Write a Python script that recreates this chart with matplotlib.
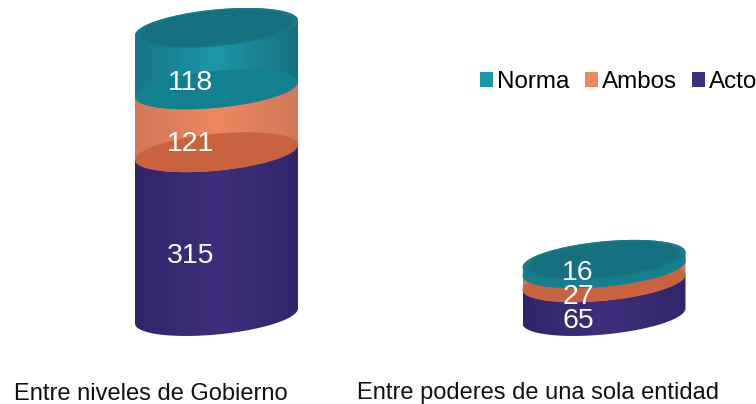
import matplotlib
matplotlib.use("Agg")
import matplotlib.pyplot as plt
import numpy as np
from matplotlib.colors import LinearSegmentedColormap
from matplotlib.patches import Patch, Polygon

categories = ["Entre niveles de Gobierno", "Entre poderes de una sola entidad"]
series = ["Acto", "Ambos", "Norma"]
acto = [315, 65]
ambos = [121, 27]
norma = [118, 16]

plt.rcParams["font.family"] = ["Liberation Sans", "DejaVu Sans"]

# side: edge, middle, edge, then the darker ellipse at the base of the segment
colors = {
    "Norma": ("#177586", "#1c97aa", "#17707f", "#13808f"),
    "Ambos": ("#d27858", "#ed875f", "#d27858", "#c9633f"),
    "Acto": ("#30256a", "#3f2e7c", "#30256a", "#35266f"),
}
top_color = "#177a89"
top_inner = "#16707f"

W, H = 756, 404
PX_X = 387.5   # px per category step
PX_Y = 0.52    # px per unit
half_w = 81.5 / PX_X
minor = 18.5 / PX_Y
shear = 7.5 / PX_Y

fig = plt.figure(figsize=(W / 100, H / 100), dpi=100)
ax = fig.add_axes([0, 0, 1, 1])
xlim = (-216.5 / PX_X, (W - 216.5) / PX_X)
ylim = (-(H - 316) / PX_Y, 316 / PX_Y)


def ellipse(x, y, scale=1.0, n=120):
    t = np.linspace(0, 2 * np.pi, n)
    return np.column_stack([x + scale * half_w * np.cos(t),
                            y + scale * minor * np.sin(t) + scale * shear * np.cos(t)])


def body(x, y0, y1, n=80):
    # front of the lower ellipse, then the back of the upper ellipse
    t = np.linspace(np.pi, 2 * np.pi, n)
    low = np.column_stack([x + half_w * np.cos(t), y0 + minor * np.sin(t) + shear * np.cos(t)])
    t2 = np.linspace(0, np.pi, n)
    up = np.column_stack([x + half_w * np.cos(t2), y1 + minor * np.sin(t2) + shear * np.cos(t2)])
    return np.vstack([low, up])


def segment(x, y0, y1, name, z):
    c = colors[name]
    cmap = LinearSegmentedColormap.from_list(name, [c[0], c[1], c[2]])
    grad = np.linspace(0, 1, 200).reshape(1, -1)
    im = ax.imshow(grad, cmap=cmap, aspect="auto", zorder=z,
                   extent=(x - half_w, x + half_w, y0 - 2 * minor, y1 + 2 * minor))
    clip = Polygon(body(x, y0, y1), closed=True, transform=ax.transData, fc="none", ec="none")
    ax.add_patch(clip)
    im.set_clip_path(clip)
    if name != "Acto":
        ax.add_patch(Polygon(ellipse(x, y0), closed=True, fc=c[3], ec="none", zorder=z + 0.1))


label_drop = {"16": 9, "27": 22, "65": 22, "315": 22, "121": 23, "118": 24}
for i, cat in enumerate(categories):
    base = 0
    z = 1
    for name, vals in zip(series, [acto, ambos, norma]):
        v = vals[i]
        segment(i, base, base + v, name, z)
        ax.annotate(str(v), (i, base + v / 2), xytext=(-26 * 0.72, -label_drop[str(v)] * 0.72),
                    textcoords="offset points", ha="center", va="center",
                    color="white", fontsize=20.5, zorder=20)
        base += v
        z += 1
    ax.add_patch(Polygon(ellipse(i, base), closed=True, fc=top_color, ec="none", zorder=10))
    ax.add_patch(Polygon(ellipse(i, base, 0.93), closed=True, fc=top_inner, ec="none", zorder=10.1))
    ax.annotate(cat, (i, ylim[0]), xytext=(-66 * 0.72, 4.5 * 0.72), textcoords="offset points",
                ha="center", va="baseline", color="#111111", fontsize=17)

ax.set_xlim(*xlim)
ax.set_ylim(*ylim)
ax.axis("off")

handles = [Patch(fc=colors[n][1], ec="none") for n in series[::-1]]
ax.legend(handles, series[::-1], ncol=3, frameon=False, fontsize=17.4,
          loc="center left", bbox_to_anchor=(480 / W, 1 - 82 / H),
          handlelength=0.54, handleheight=0.54, handletextpad=0.17,
          columnspacing=0.62, borderpad=0, borderaxespad=0, labelspacing=0)

fig.savefig("out.png", dpi=100)
